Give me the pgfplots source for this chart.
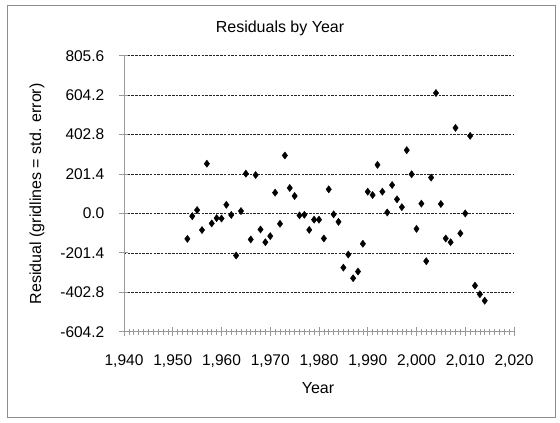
\documentclass[border=0pt]{standalone}
\usepackage{pgfplots}
\pgfplotsset{compat=1.18}
\usepackage{fontspec}
\setmainfont{Liberation Sans}
\begin{document}
\begin{tikzpicture}[x=1pt,y=1pt]
\path[use as bounding box] (-124,-91.3) rectangle (436,331.7);
\draw[black!45, line width=0.8pt] (-117,-85.3) rectangle (431,326.3);
\begin{axis}[
  at={(0,0)}, anchor=south west,
  scale only axis, width=390pt, height=276pt,
  xmin=1940, xmax=2020, ymin=-604.2, ymax=805.6,
  axis x line=bottom, axis y line=left,
  axis line style={-, black!40, line width=0.8pt},
  xtick={1940,1950,...,2020},
  minor x tick num=9,
  ytick={-604.2,-402.8,-201.4,0,201.4,402.8,604.2,805.6},
  tick align=center,
  major tick length=9pt, minor tick length=6pt,
  tick style={black!40, line width=0.7pt},
  ymajorgrids,
  major grid style={black!85, line width=0.6pt, dash pattern=on 2.5pt off 1.2pt},
  /pgf/number format/assume math mode=true,
  xticklabel style={/pgf/number format/1000 sep={,}, anchor=center, yshift=-25pt, inner sep=0pt, font=\fontsize{15.5}{17}\selectfont},
  yticklabel style={/pgf/number format/fixed, /pgf/number format/fixed zerofill, /pgf/number format/precision=1, anchor=east, xshift=-15pt, inner sep=0pt, font=\fontsize{15.5}{17}\selectfont},
  scaled ticks=false,
  clip=false,
]
\addplot[only marks, mark=diamond*, mark size=3.6pt, black] coordinates {
(1953,-130) (1954,-14) (1955,17) (1956,-85) (1957,254) (1958,-51) (1959,-24) (1960,-26)
(1961,44) (1962,-8) (1963,-215) (1964,12) (1965,203) (1966,-133) (1967,196) (1968,-82)
(1969,-147) (1970,-116) (1971,106) (1972,-53) (1973,296) (1974,130) (1975,89) (1976,-10)
(1977,-7) (1978,-84) (1979,-32) (1980,-32) (1981,-128) (1982,123) (1983,-5) (1984,-43)
(1985,-277) (1986,-210) (1987,-331) (1988,-297) (1989,-155) (1990,111) (1991,94) (1992,248)
(1993,111) (1994,5) (1995,145) (1996,72) (1997,32) (1998,323) (1999,200) (2000,-79)
(2001,50) (2002,-244) (2003,183) (2004,615) (2005,48) (2006,-128) (2007,-147) (2008,437)
(2009,-102) (2010,0) (2011,396) (2012,-369) (2013,-413) (2014,-446)
};
\end{axis}
\node[font=\fontsize{16}{18}\selectfont, inner sep=0pt] at (156,303.7) {Residuals by Year};
\node[font=\fontsize{16}{18}\selectfont, inner sep=0pt, rotate=90] at (-87,138) {Residual (gridlines = std. error)};
\node[font=\fontsize{16}{18}\selectfont, inner sep=0pt] at (194,-56.3) {Year};
\end{tikzpicture}
\end{document}
